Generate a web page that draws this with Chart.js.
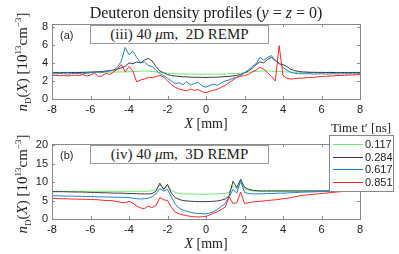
<!DOCTYPE html>
<html>
<head>
<meta charset="utf-8">
<script src="https://cdn.jsdelivr.net/npm/chart.js@4"></script>
<style>
body { margin: 0; width: 399px; height: 254px; overflow: hidden; background: #fff; position: relative; font-family: "Liberation Sans", Arial, sans-serif; }
.cv { position: absolute; left: 0; width: 399px; height: 118px; }
.t { position: absolute; white-space: nowrap; font-family: "Liberation Serif", "DejaVu Serif", serif; color: #222; line-height: 1; }
.rot { transform: translate(-50%, -50%) rotate(-90deg); font-size: 15px; }
.ctr { transform: translate(-50%, -50%); }
.box { position: absolute; border: 1px solid #999; background: #fff; font-family: "Liberation Serif", serif; font-size: 15px; color: #222; text-align: center; line-height: 17px; white-space: nowrap; }
.tag { position: absolute; font-size: 11px; color: #222; }
sup, sub { font-size: 9px; line-height: 0; }
#legend { position: absolute; left: 329px; top: 135px; width: 63px; height: 55px; border: 1px solid #888; background: #fff; }
.row { position: absolute; left: 3px; height: 12px; font-size: 11px; color: #222; }
.row span.ln { position: absolute; left: 0; top: 6px; width: 30px; height: 1px; }
.row span.tx { position: absolute; left: 32px; top: 0; }
</style>
</head>
<body>
<div class="cv" style="top:0"><canvas id="chartA"></canvas></div>
<div class="cv" style="top:120px"><canvas id="chartB"></canvas></div>

<div class="t ctr" style="left:206px;top:13px;font-size:16px">Deuteron density profiles (<i>y</i> = <i>z</i> = 0)</div>

<div class="box" style="left:90px;top:25px;width:177px;height:17px">(iii) 40 <i>μ</i>m,&nbsp; 2D REMP</div>
<div class="tag" style="left:60px;top:29px">(a)</div>
<div class="box" style="left:90px;top:145px;width:177px;height:17px">(iv) 40 <i>μ</i>m,&nbsp; 3D REMP</div>
<div class="tag" style="left:60px;top:149px">(b)</div>

<div class="t rot" style="left:22px;top:62px"><i>n</i><sub>D</sub>(<i>X</i>) [10<sup>13</sup>cm<sup>−3</sup>]</div>
<div class="t rot" style="left:22px;top:184px"><i>n</i><sub>D</sub>(<i>X</i>) [10<sup>13</sup>cm<sup>−3</sup>]</div>

<div class="t ctr" style="left:206px;top:124px;font-size:14px"><i>X</i> [mm]</div>
<div class="t ctr" style="left:206px;top:244px;font-size:14px"><i>X</i> [mm]</div>

<div class="t" style="left:331px;top:121px;font-size:13px">Time t′ [ns]</div>
<div id="legend"></div>

<script>
// Pozycje X [mm]
const xPos = [-8,-7.8,-7.6,-7.4,-7.2,-7,-6.8,-6.6,-6.4,-6.2,-6,-5.8,-5.6,-5.4,-5.2,-5,-4.8,-4.6,-4.4,-4.2,
    -4,-3.8,-3.6,-3.4,-3.2,-3,-2.8,-2.6,-2.4,-2.2,-2,-1.8,-1.6,-1.4,-1.2,-1,-0.8,-0.6,-0.4,-0.2,
    0,0.2,0.4,0.6,0.8,1,1.2,1.4,1.6,1.8,2,2.2,2.4,2.6,2.8,3,3.2,3.4,3.6,3.8,
    4,4.2,4.4,4.6,4.8,5,5.2,5.4,5.6,5.8,6,6.2,6.4,6.6,6.8,7,7.2,7.4,7.6,7.8,8];

const times = ['0.117', '0.284', '0.617', '0.851'];
const colors = ['#6ee86e', '#3a3a3a', '#1f7fd2', '#ff2626'];

const xTicks = [-8, -6, -4, -2, 0, 2, 4, 6, 8];
const yTicksA = [0, 2, 4, 6, 8];
const yTicksB = [0, 5, 10, 15, 20];

// (a) 2D REMP
const greenA = [2.95,2.95,2.94,2.95,2.96,2.95,2.94,2.95,2.96,2.95,
    2.95,2.96,2.95,2.94,2.96,2.97,2.98,2.99,3.0,3.0,
    3.02,3.03,3.05,3.08,3.1,3.08,3.05,3.0,2.95,2.9,
    2.85,2.82,2.8,2.78,2.77,2.76,2.75,2.75,2.74,2.74,
    2.74,2.74,2.75,2.75,2.76,2.77,2.78,2.8,2.82,2.85,
    2.9,2.95,3.0,3.05,3.08,3.1,3.1,3.08,3.05,3.05,
    3.02,3.0,2.98,2.97,2.96,2.95,2.95,2.95,2.94,2.95,
    2.95,2.94,2.95,2.95,2.94,2.95,2.95,2.94,2.95,2.95,2.95];
const blackA = [2.9,2.92,2.9,2.93,2.91,2.92,2.94,2.93,2.95,2.96,
    2.98,3.0,3.02,3.05,3.1,3.15,3.2,3.3,3.45,3.6,
    4.0,3.9,4.1,4.0,4.3,4.5,4.2,3.6,3.1,2.9,
    2.7,2.6,2.55,2.5,2.45,2.45,2.42,2.4,2.4,2.4,
    2.38,2.4,2.4,2.42,2.45,2.48,2.5,2.55,2.62,2.7,
    2.9,3.1,3.4,3.8,4.1,4.0,4.4,4.6,4.3,3.9,
    3.8,3.6,3.3,3.15,3.05,3.0,2.98,2.95,2.95,2.94,
    2.94,2.93,2.94,2.93,2.92,2.93,2.92,2.92,2.93,2.92,2.92];
const blueA = [2.8,2.78,2.82,2.8,2.75,2.8,2.85,2.8,2.78,2.85,
    2.9,2.95,3.0,2.95,3.05,3.1,3.2,3.5,4.2,5.7,
    4.9,5.3,4.6,4.0,4.1,3.7,3.6,3.2,2.8,2.6,
    2.3,2.0,1.7,1.8,1.6,1.9,1.55,1.7,1.85,1.45,
    1.3,1.5,1.65,1.5,1.8,2.0,2.1,2.3,2.4,2.6,
    2.9,3.2,3.6,3.9,4.6,4.3,4.6,4.8,4.2,4.0,
    3.5,3.2,2.95,2.85,2.8,2.8,2.78,2.8,2.75,2.78,
    2.8,2.76,2.78,2.8,2.77,2.78,2.8,2.78,2.8,2.78,2.8];
const redA = [2.6,2.62,2.58,2.6,2.55,2.6,2.65,2.6,2.7,2.55,
    2.65,2.9,2.5,2.55,2.85,2.7,3.0,3.3,3.8,3.0,
    3.6,3.1,1.9,2.1,2.2,2.4,2.35,2.5,2.6,2.45,
    2.0,1.6,1.3,1.1,1.0,0.9,1.1,0.95,1.05,0.8,
    0.7,0.85,0.95,1.1,1.3,1.5,1.8,2.1,2.4,2.5,
    2.6,2.7,3.0,3.2,3.5,3.3,2.9,2.5,2.0,5.9,
    2.6,2.3,2.2,2.25,2.3,2.3,2.35,2.4,2.4,2.45,
    2.5,2.5,2.55,2.55,2.6,2.6,2.62,2.65,2.65,2.68,2.7];

// (b) 3D REMP
const greenB = [7.5,7.5,7.5,7.5,7.5,7.5,7.5,7.5,7.5,7.5,
    7.5,7.5,7.5,7.5,7.5,7.5,7.5,7.5,7.5,7.5,
    7.5,7.5,7.5,7.5,7.5,7.55,7.6,8.0,9.2,8.2,
    8.8,7.8,7.2,6.9,6.8,6.8,6.75,6.75,6.7,6.7,
    6.7,6.7,6.75,6.8,6.85,6.9,7.2,9.0,8.2,9.8,
    8.2,7.8,7.6,7.5,7.5,7.5,7.5,7.5,7.5,7.5,
    7.5,7.5,7.5,7.5,7.5,7.5,7.5,7.5,7.5,7.5,
    7.55,7.55,7.6,7.6,7.6,7.65,7.65,7.7,7.7,7.7,7.7];
const blackB = [7.4,7.4,7.4,7.4,7.35,7.35,7.3,7.3,7.3,7.25,
    7.2,7.2,7.15,7.1,7.1,7.05,7.0,7.0,7.0,6.95,
    6.9,6.9,6.85,6.8,6.8,6.8,6.9,7.5,9.7,8.0,
    9.4,7.0,5.8,5.3,5.0,4.9,4.8,4.75,4.7,4.7,
    4.7,4.75,4.8,4.9,5.1,5.4,6.2,10.2,8.5,10.8,
    8.6,8.1,7.8,7.7,7.6,7.6,7.6,7.6,7.6,7.6,
    7.6,7.6,7.6,7.6,7.6,7.6,7.6,7.6,7.6,7.6,
    7.6,7.6,7.65,7.65,7.65,7.7,7.7,7.7,7.7,7.7,7.7];
const blueB = [6.3,6.3,6.25,6.2,6.2,6.2,6.15,6.15,6.1,6.1,
    6.1,6.05,6.0,6.0,5.95,5.95,5.9,5.9,5.85,5.85,
    5.8,5.6,5.5,5.4,5.5,5.6,6.0,6.8,8.2,7.6,
    8.0,6.0,4.0,3.0,2.4,2.1,1.8,1.6,1.5,1.45,
    1.4,1.6,2.0,2.6,3.4,4.2,6.0,8.0,7.0,10.4,
    7.2,6.9,6.8,6.8,6.8,6.85,6.9,6.9,6.95,7.0,
    7.0,7.05,7.1,7.15,7.2,7.25,7.3,7.3,7.35,7.4,
    7.45,7.5,7.5,7.55,7.6,7.6,7.65,7.65,7.7,7.7,7.7];
const redB = [5.6,5.55,5.5,5.5,5.45,5.4,5.4,5.35,5.35,5.3,
    5.3,5.25,5.2,5.1,5.0,5.0,4.9,4.7,4.5,4.4,
    4.8,4.3,3.5,3.0,2.8,3.5,3.1,3.6,5.8,5.2,
    5.0,3.2,1.9,1.4,1.1,0.9,0.7,0.6,0.55,0.6,
    0.7,1.1,1.6,2.0,2.6,3.2,6.0,4.2,4.4,7.3,
    4.2,4.4,4.6,4.7,4.8,4.9,5.0,5.1,5.2,5.3,
    5.5,5.6,5.8,6.0,6.2,6.4,6.5,6.6,6.7,6.8,
    6.9,7.0,7.1,7.2,7.3,7.4,7.5,7.55,7.6,7.65,7.7];

// Ramka i znaczniki do środka (styl MATLAB)
const framePlugin = {
    id: 'frame',
    afterDraw(chart) {
        const { ctx, chartArea: a, scales } = chart;
        const x = scales.x, y = scales.y;
        ctx.save();
        ctx.strokeStyle = '#8a8a8a';
        ctx.lineWidth = 1;
        ctx.strokeRect(Math.round(a.left) + 0.5, Math.round(a.top) + 0.5, Math.round(a.right - a.left), Math.round(a.bottom - a.top));
        ctx.beginPath();
        x.ticks.forEach(t => {
            const px = Math.round(x.getPixelForValue(t.value)) + 0.5;
            ctx.moveTo(px, a.bottom); ctx.lineTo(px, a.bottom - 3);
            ctx.moveTo(px, a.top); ctx.lineTo(px, a.top + 3);
        });
        y.ticks.forEach(t => {
            const py = Math.round(y.getPixelForValue(t.value)) + 0.5;
            ctx.moveTo(a.left, py); ctx.lineTo(a.left + 3, py);
            ctx.moveTo(a.right, py); ctx.lineTo(a.right - 3, py);
        });
        ctx.stroke();
        ctx.restore();
    }
};

function makeChart(id, series, yTicks, yMax) {
    const ctx = document.getElementById(id).getContext('2d');
    new Chart(ctx, {
        type: 'line',
        data: {
            datasets: series.map((ys, i) => ({
                label: times[i],
                data: xPos.map((x, j) => ({ x: x, y: ys[j] })),
                borderColor: colors[i],
                borderWidth: 1,
                pointRadius: 0,
                tension: 0,
                fill: false,
                order: 3 - i
            }))
        },
        options: {
            responsive: true,
            maintainAspectRatio: false,
            animation: false,
            events: [],
            layout: { padding: { left: 31, right: 39, top: 24, bottom: 5 } },
            plugins: { legend: { display: false }, tooltip: { enabled: false } },
            scales: {
                x: {
                    type: 'linear', min: -8, max: 8,
                    afterBuildTicks: s => { s.ticks = xTicks.map(v => ({ value: v })); },
                    afterFit: s => { s.height = 14; },
                    grid: { display: false, drawTicks: false },
                    border: { display: false },
                    ticks: { padding: 4, color: '#222', font: { family: 'Liberation Sans', size: 11 }, maxRotation: 0 }
                },
                y: {
                    min: 0, max: yMax,
                    afterBuildTicks: s => { s.ticks = yTicks.map(v => ({ value: v })); },
                    afterFit: s => { s.width = 21; },
                    grid: { display: false, drawTicks: false },
                    border: { display: false },
                    ticks: { padding: 4, color: '#222', font: { family: 'Liberation Sans', size: 11 } }
                }
            }
        },
        plugins: [framePlugin]
    });
}

makeChart('chartA', [greenA, blackA, blueA, redA], yTicksA, 8.3);
makeChart('chartB', [greenB, blackB, blueB, redB], yTicksB, 20.3);

// Legenda
const legend = document.getElementById('legend');
times.forEach((t, i) => {
    const row = document.createElement('div');
    row.className = 'row';
    row.style.top = (2 + i * 12.5) + 'px';
    row.innerHTML = `<span class="ln" style="background:${colors[i]}"></span><span class="tx">${t}</span>`;
    legend.appendChild(row);
});
</script>
</body>
</html>
